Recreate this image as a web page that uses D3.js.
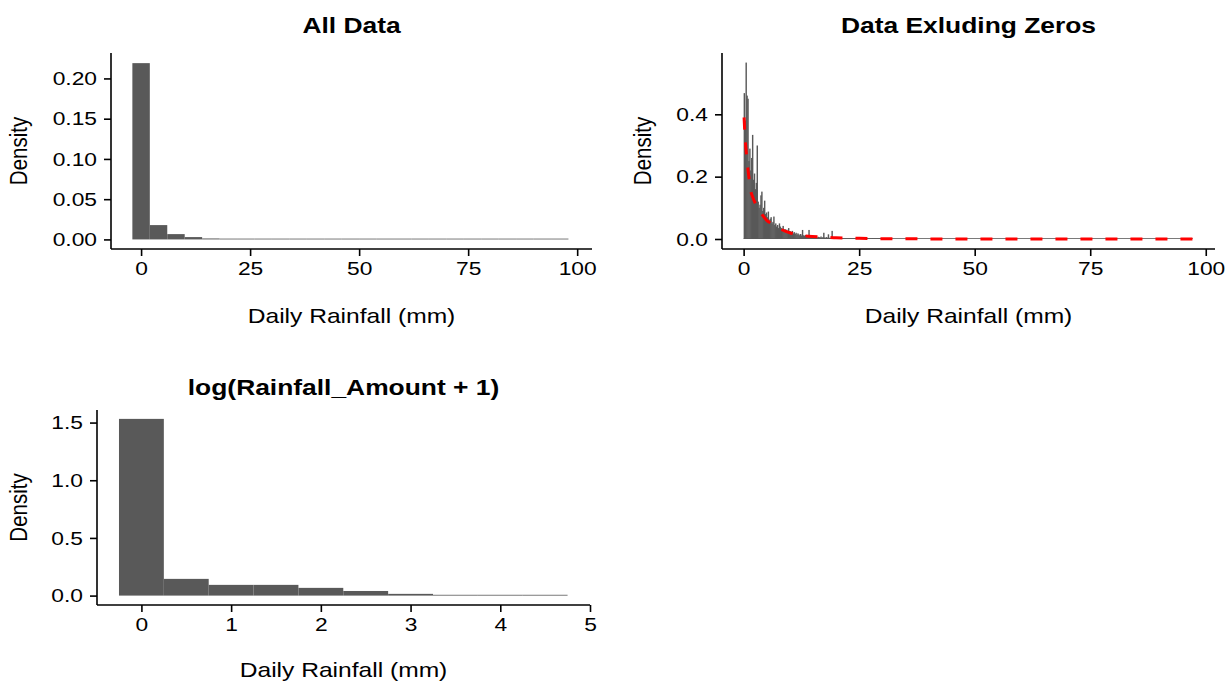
<!DOCTYPE html>
<html><head><meta charset="utf-8">
<script src="https://cdn.jsdelivr.net/npm/d3@7"></script>
<style>body{margin:0;background:#fff}svg{display:block}text{font-family:"Liberation Sans",Arial,sans-serif;fill:#000}</style>
</head><body><svg id="c" width="1229" height="683"></svg>
<script>
// ---------- DATA ----------
// Panel 1: All Data (bin width 4 mm, starting at -2)
const allBinStart = -2, allBinWidth = 4;
const allDensity = [0.219, 0.0178, 0.0066, 0.0029, 0.0012, 0.0006, 0.0004, 0.0002, 0.0002, 0.0001,
  0.0001, 0.0001, 0.00005, 0.00005, 0, 0, 0, 0, 0, 0, 0, 0, 0, 0, 0];
const allXTicks = [0, 25, 50, 75, 100];
const allYTicks = [0, 0.05, 0.10, 0.15, 0.20];

// Panel 2: Data excluding zeros (bin width 0.2 mm, starting at 0)
const nzBinStart = 0, nzBinWidth = 0.2, nzMax = 97.2;
const nzDensity = [
  0.468, 0.38, 0.566, 0.46, 0.45,
  0.25, 0.29, 0.22, 0.26, 0.334,
  0.19, 0.21, 0.16, 0.18, 0.30,
  0.12, 0.10, 0.11, 0.14, 0.152,
  0.09, 0.10, 0.123, 0.08, 0.085,
  0.07, 0.088, 0.06, 0.065, 0.07,
  0.05, 0.055, 0.072, 0.045, 0.05,
  0.04, 0.045, 0.035, 0.05, 0.04,
  0.035, 0.03, 0.042, 0.028, 0.032,
  0.025, 0.03, 0.022, 0.035, 0.025,
  0.024, 0.02, 0.026, 0.018, 0.022, 0.016, 0.02, 0.014, 0.018, 0.015,
  0.012, 0.016, 0.011, 0.029, 0.012, 0.01, 0.013, 0.009, 0.011, 0.008,
  0.029, 0.009, 0.008, 0.01, 0.007,
  0.007, 0.009, 0.006, 0.008, 0.005, 0.007, 0.006, 0.005, 0.008, 0.004,
  0.006, 0.02, 0.005, 0.004, 0.006, 0.004, 0.015, 0.004, 0.003, 0.005,
  0.026, 0.003, 0.004, 0.003, 0.003,
  0.003, 0.002, 0.004, 0.002, 0.003, 0.002, 0.003, 0.002, 0.002, 0.003,
  0.002, 0.002, 0.001, 0.002, 0.002, 0.001, 0.002, 0.001, 0.001, 0.002,
  0.001, 0.001, 0.002, 0.001, 0.001,
  0.001, 0, 0.001, 0.001, 0, 0.001, 0, 0.001, 0, 0.001,
  0, 0.001, 0, 0.001, 0.003, 0, 0.001, 0, 0, 0.001,
  0, 0.003, 0, 0.001, 0
];
const fitX = [0.1, 0.3, 0.5, 0.75, 1.0, 1.25, 1.5, 2.0, 2.5, 3.0, 4.0, 5.0, 6.0, 7.0, 8.0, 9.0, 10, 12, 14, 17, 20, 25, 30, 40, 50, 60, 97.2];
const fitY = [0.39, 0.33, 0.29, 0.25, 0.215, 0.185, 0.158, 0.133, 0.115, 0.10, 0.078, 0.06, 0.05, 0.04, 0.032, 0.025, 0.02, 0.013, 0.009, 0.006, 0.004, 0.002, 0.001, 0.0004, 0.0001, 0, 0];
const nzXTicks = [0, 25, 50, 75, 100];
const nzYTicks = [0, 0.2, 0.4];

// Panel 3: log(Rainfall_Amount + 1) (bin width 0.5, starting at -0.25)
const logBinStart = -0.25, logBinWidth = 0.5;
const logDensity = [1.532, 0.145, 0.093, 0.093, 0.067, 0.04, 0.015, 0.006, 0.002, 0.001];
const logXTicks = [0, 1, 2, 3, 4, 5];
const logYTicks = [0, 0.5, 1.0, 1.5];

const titles = ["All Data", "Data Exluding Zeros", "log(Rainfall_Amount + 1)"];
const xTitle = "Daily Rainfall (mm)", yTitle = "Density";

// ---------- DRAW ----------
const svg = d3.select("#c");
const BAR = "#595959";
const FS_TICK = 19, FS_AX = 20.5, FS_TITLE = 22;
const SX = 1.2; // horizontal glyph stretch seen in the reference
const TICK = 7, PAD = 7;

function binsOf(start, width, vals){ return vals.map((v,i)=>({x0:start+i*width, x1:start+(i+1)*width, y:v})); }

function panel(o){
  const g = svg.append("g");
  const x = d3.scaleLinear().domain(o.xd).range([o.left, o.right]);
  const y = d3.scaleLinear().domain(o.yd).range([o.bottom, o.top]);
  const pad = o.overlap || 0;
  // bars
  g.append("g").selectAll("rect").data(o.bins).join("rect")
    .attr("x", d=>x(d.x0)).attr("width", d=>Math.max(0.6, x(d.x1)-x(d.x0)) + pad)
    .attr("y", d=>Math.min(y(d.y), y(0)-0.8)).attr("height", d=>Math.max(0.8, y(0)-y(d.y)))
    .attr("fill", BAR);
  if (o.base) {
    g.append("rect").attr("x", x(o.base[0])).attr("width", x(o.base[1])-x(o.base[0]))
      .attr("y", y(0)-0.8).attr("height", 0.8).attr("fill", BAR);
  }
  if (o.line) {
    g.append("path").datum(o.line)
      .attr("d", d3.line().x(d=>x(d[0])).y(d=>y(d[1])).curve(d3.curveMonotoneX))
      .attr("fill","none").attr("stroke","#ff0000").attr("stroke-width",3)
      .attr("stroke-dasharray","12,13");
  }
  // axes
  const xa = g.append("g").attr("transform",`translate(0,${o.bottom})`)
    .call(d3.axisBottom(x).tickValues(o.xt).tickSize(TICK).tickPadding(PAD-1).tickFormat(o.xf||d3.format("d")));
  const ya = g.append("g").attr("transform",`translate(${o.left},0)`)
    .call(d3.axisLeft(y).tickValues(o.yt).tickSize(TICK).tickPadding(PAD).tickFormat(o.yf));
  [xa, ya].forEach(a=>{
    a.select(".domain").attr("stroke","#000").attr("stroke-width",1.6);
    a.selectAll(".tick line").attr("stroke","#000").attr("stroke-width",1.6);
    a.selectAll(".tick text").attr("font-size",FS_TICK).attr("fill","#000")
      .attr("font-family",'"Liberation Sans",Arial,sans-serif');
  });
  xa.selectAll(".tick text").attr("transform",`scale(${SX},1)`);
  ya.selectAll(".tick text").attr("x", -(TICK+PAD)/SX).attr("transform",`scale(${SX},1)`);
  xa.select(".domain").attr("d", `M${o.left},0H${o.right}`);
  ya.select(".domain").attr("d", `M0,${o.top}V${o.bottom}`);
  // titles
  const cx = (o.left+o.right)/2, cy = (o.top+o.bottom)/2;
  g.append("text").attr("transform",`translate(${cx},${o.titleY}) scale(${SX},1)`).attr("text-anchor","middle")
    .attr("font-size",FS_TITLE).attr("font-weight","bold").text(o.title);
  g.append("text").attr("transform",`translate(${cx},${o.xTitleY}) scale(${SX},1)`).attr("text-anchor","middle")
    .attr("font-size",FS_AX).text(xTitle);
  g.append("text").attr("transform",`translate(${o.yTitleX},${cy}) scale(${SX},1) rotate(-90)`).attr("text-anchor","middle")
    .attr("font-size",FS_AX).text(yTitle);
}

panel({
  left:111, right:592, top:53, bottom:249,
  xd:[-6.9, 103.4], yd:[-0.0119, 0.2316],
  bins: binsOf(allBinStart, allBinWidth, allDensity),
  xt: allXTicks, yt: allYTicks, yf: d3.format(".2f"),
  title: titles[0], titleY: 33, xTitleY: 323, yTitleX: 27
});
panel({
  left:722, right:1215, top:53, bottom:249,
  xd:[-4.68, 102.0], yd:[-0.0321, 0.5967],
  bins: binsOf(nzBinStart, nzBinWidth, nzDensity), base:[nzBinStart, nzMax], overlap:0.5,
  line: fitX.map((v,i)=>[v, fitY[i]]),
  xt: nzXTicks, yt: nzYTicks, yf: d3.format(".1f"),
  title: titles[1], titleY: 33, xTitleY: 323, yTitleX: 651
});
panel({
  left:97, right:590, top:410, bottom:605,
  xd:[-0.495, 5.0], yd:[-0.0815, 1.609],
  bins: binsOf(logBinStart, logBinWidth, logDensity),
  xt: logXTicks, yt: logYTicks, yf: d3.format(".1f"),
  title: titles[2], titleY: 395, xTitleY: 677, yTitleX: 27
});
</script></body></html>
